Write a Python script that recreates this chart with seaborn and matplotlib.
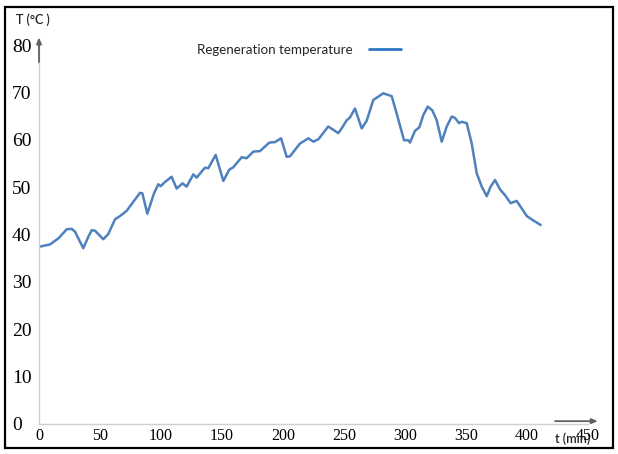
import matplotlib
matplotlib.use("Agg")
import matplotlib.pyplot as plt
import seaborn as sns
import pandas as pd
from matplotlib.patches import Rectangle

# ---- data ----
time_min = [0, 9, 16, 22.7, 26.8, 29.5, 36.3, 40.4, 43.2, 45.9, 52.7, 56.8, 62.3, 66.4,
            71.9, 77.3, 82.8, 84.7, 88.8, 94.3, 97.8, 99.7, 103.3, 108.7, 112.8, 117.7,
            121, 126.5, 129.2, 136, 138.8, 144.8, 151.1, 156, 159.3, 166.1, 170.2, 175.7,
            181.1, 188.8, 193.4, 198.4, 203, 205.7, 213.9, 220.8, 224.9, 229, 237.1,
            241.2, 245.3, 248.1, 252.2, 254.9, 259, 264.5, 268.6, 274, 282.2, 289.1,
            293.2, 299.2, 302.7, 304.1, 308.2, 311.7, 315, 318.6, 322.4, 326, 330.1,
            334.2, 338.3, 341, 344.3, 346.5, 350.6, 354.7, 358.8, 362.9, 367, 370.2,
            373.8, 377.9, 382, 386.6, 391.5, 395.7, 399.8, 403.8, 411.2]
temperature = [37.4, 37.9, 39.2, 41.1, 41.2, 40.6, 37.1, 39.5, 40.9, 40.8, 39.0, 40.1,
               43.2, 43.9, 45.0, 46.9, 48.8, 48.7, 44.4, 48.7, 50.6, 50.2, 51.1, 52.2,
               49.7, 50.8, 50.1, 52.7, 52.0, 54.1, 54.0, 56.8, 51.3, 53.7, 54.2, 56.3,
               56.1, 57.5, 57.6, 59.4, 59.5, 60.3, 56.4, 56.5, 59.2, 60.3, 59.6, 60.1,
               62.8, 62.1, 61.4, 62.4, 64.1, 64.7, 66.6, 62.4, 64.0, 68.4, 69.8, 69.2,
               65.5, 59.9, 59.9, 59.4, 61.9, 62.6, 65.2, 67.0, 66.2, 64.1, 59.6, 62.8,
               64.9, 64.6, 63.5, 63.8, 63.5, 59.2, 52.9, 50.1, 48.1, 50.1, 51.5, 49.5,
               48.3, 46.6, 47.1, 45.5, 43.9, 43.2, 42.0]
series_name = "Regeneration temperature"
x_ticks = [0, 50, 100, 150, 200, 250, 300, 350, 400, 450]
y_ticks = [0, 10, 20, 30, 40, 50, 60, 70, 80]

df = pd.DataFrame({"t": time_min, "T": temperature, "series": series_name})

sns.set_style("white")
plt.rcParams["font.family"] = ["Liberation Serif", "DejaVu Sans"]

W, H = 618, 454
fig = plt.figure(figsize=(W / 100, H / 100), dpi=100)
ax = fig.add_axes([39 / W, (H - 424) / H, 549 / W, (424 - 45) / H])

sns.lineplot(data=df, x="t", y="T", hue="series", palette=["#4f81bd"],
             linewidth=1.8, ax=ax, legend=True)
for ln in ax.get_lines():
    ln.set_solid_joinstyle("round")
    ln.set_solid_capstyle("round")

ax.set_xlim(0, 450)
ax.set_ylim(0, 80)
ax.set_xticks(x_ticks)
ax.set_yticks(y_ticks)
ax.set_xticklabels([str(v) for v in x_ticks], fontsize=11.5)
ax.set_yticklabels([str(v) for v in y_ticks], fontsize=14)
ax.set_xlabel("")
ax.set_ylabel("")

for s in ["top", "right"]:
    ax.spines[s].set_visible(False)
for s in ["left", "bottom"]:
    ax.spines[s].set_color("#d0d0d0")
    ax.spines[s].set_linewidth(1.0)

ax.tick_params(axis="x", direction="in", length=3, color="#c8c8c8", pad=3,
               labelcolor="black")
ax.tick_params(axis="y", length=0, pad=19.4, labelcolor="black")
for lab in ax.get_yticklabels():
    lab.set_horizontalalignment("left")

# axis arrows
ax.annotate("", xy=(0, 81.6), xytext=(0, 76.4), xycoords="data",
            arrowprops=dict(arrowstyle="-|>,head_length=0.35,head_width=0.15",
                            color="#606060", lw=1.3, shrinkA=0, shrinkB=0),
            annotation_clip=False)
ax.annotate("", xy=(458, 0.6), xytext=(423, 0.6), xycoords="data",
            arrowprops=dict(arrowstyle="-|>,head_length=0.35,head_width=0.15",
                            color="#606060", lw=1.3, shrinkA=0, shrinkB=0),
            annotation_clip=False)

# axis titles
fig.text(16 / W, 1 - 20 / H, "T (°C )", fontsize=9, family=["Lato", "DejaVu Sans"],
         ha="left", va="center", color="#222222", fontweight="semibold")
fig.text(555 / W, 1 - 439 / H, "t (min)", fontsize=9, family=["Lato", "DejaVu Sans"],
         ha="left", va="center", color="#222222", fontweight="semibold")

# legend
leg = ax.legend(loc="center left", bbox_to_anchor=(197 / W, 1 - 50 / H),
                bbox_transform=fig.transFigure, frameon=False, markerfirst=False,
                borderpad=0, borderaxespad=0, handlelength=2.4, handletextpad=1.2,
                prop={"family": ["Lato", "DejaVu Sans"], "size": 9.6})
for line in leg.get_lines():
    line.set_color("#2e75c3")
    line.set_linewidth(2.0)

# frame around the figure
fig.patches.append(Rectangle((5 / W, 1 - 448 / H), 608 / W, 441 / H,
                             transform=fig.transFigure, fill=False,
                             edgecolor="black", linewidth=1.6))

fig.savefig("out.png", dpi=100)
